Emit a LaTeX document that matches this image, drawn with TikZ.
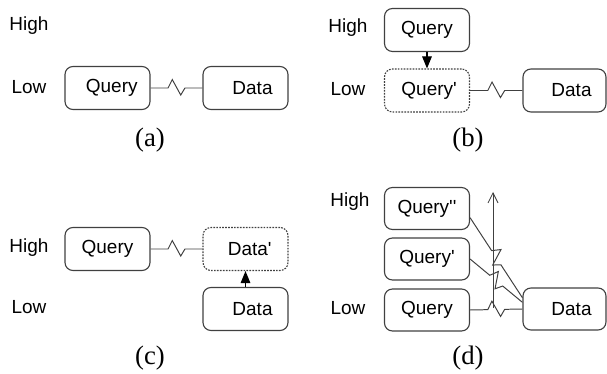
\documentclass[tikz,border=0pt]{standalone}
\usepackage{fontspec}
\setmainfont{Liberation Sans}
\newfontfamily\capfont{Liberation Serif}
\usetikzlibrary{arrows.meta, calc}

\begin{document}
\begin{tikzpicture}[
    x=0.025cm, y=-0.025cm,
    box/.style={draw=black!75, rounded corners=0.2cm, line width=0.8pt, font=\fontsize{13.5}{16}\selectfont, minimum width=2.125cm, minimum height=1.075cm, inner sep=0pt},
    ghost/.style={box, dash pattern=on 1.2pt off 0.9pt},
    lvl/.style={font=\fontsize{13.5}{16}\selectfont},
    captxt/.style={font=\capfont\fontsize{19}{22}\selectfont},
    arr/.style={-{Triangle[length=3mm, width=2.4mm]}, line width=0.8pt},
    zz/.style={line width=0.7pt, draw=black!75, to path={
        -- ($(\tikztostart)!0.5!(\tikztotarget)!-6pt!(\tikztotarget)$)
        -- ($(\tikztostart)!0.5!(\tikztotarget)!-3pt!(\tikztotarget)!6pt!90:(\tikztotarget)$)
        -- ($(\tikztostart)!0.5!(\tikztotarget)!3pt!(\tikztotarget)!-5pt!90:(\tikztotarget)$)
        -- ($(\tikztostart)!0.5!(\tikztotarget)!6pt!(\tikztotarget)$)
        -- (\tikztotarget)}}
]
    \useasboundingbox (0,0) rectangle (607,374);

    % (a)
    \node[lvl] (ha) at (29,26) {High};
    \node[lvl] (la) at (29,87) {Low};
    \node[box] (qa) at (107.5,88) {\hspace{6pt}Query};
    \node[box] (da) at (245.5,88) {\hspace{10pt}Data};
    \draw[zz] (qa.east) to (da.west);
    \node[captxt] (ca) at (150,140) {(a)};

    % (b)
    \node[lvl] (hb) at (348,28) {High};
    \node[lvl] (lb) at (348,89) {Low};
    \node[box] (qb) at (427,30) {Query};
    \node[ghost] (qbp) at (427,90.5) {\hspace{3pt}Query\textquotesingle};
    \node[box, minimum width=2.075cm] (db) at (564.5,90.5) {\hspace{10pt}Data};
    \draw[arr] (qb.south) -- (qbp.north);
    \draw[zz] (qbp.east) to (db.west);
    \node[captxt] (cb) at (468,140) {(b)};

    % (c)
    \node[lvl] (hc) at (29,248) {High};
    \node[lvl] (lc) at (29,307) {Low};
    \node[box] (qc) at (107.5,249) {Query};
    \node[ghost] (dcp) at (245.5,249) {\hspace{6pt}Data\textquotesingle};
    \node[box] (dc) at (245.5,309) {\hspace{10pt}Data};
    \draw[zz] (qc.east) to (dcp.west);
    \draw[arr] (dc.north) -- (dcp.south);
    \node[captxt] (cc) at (150,358) {(c)};

    % (d)
    \node[lvl] (hd) at (350,202) {High};
    \node[lvl] (ld) at (348,308) {Low};
    \node[box, minimum height=1.05cm] (qd2) at (427,208.5) {Query\textquotesingle\textquotesingle};
    \node[box, minimum height=1.05cm] (qd1) at (427,259) {Query\textquotesingle};
    \node[box, minimum height=1.05cm] (qd) at (427,310) {Query};
    \node[box, minimum width=2.075cm, minimum height=1.05cm] (dd) at (564.5,309) {\hspace{10pt}Data};
    \coordinate (vb) at (493,308);
    \coordinate (vt) at (493,192);
    \draw[-{Straight Barb[length=2.5mm, width=2.5mm]}, line width=0.6pt, black!75] (vb) -- (vt);
    \draw[zz] (qd2.-12) to (dd.165);
    \draw[zz] (qd1.east) to (dd.171);
    \draw[zz] (qd.east) to (dd.west);
    \node[captxt] (cd) at (468,358) {(d)};
\end{tikzpicture}
\end{document}
